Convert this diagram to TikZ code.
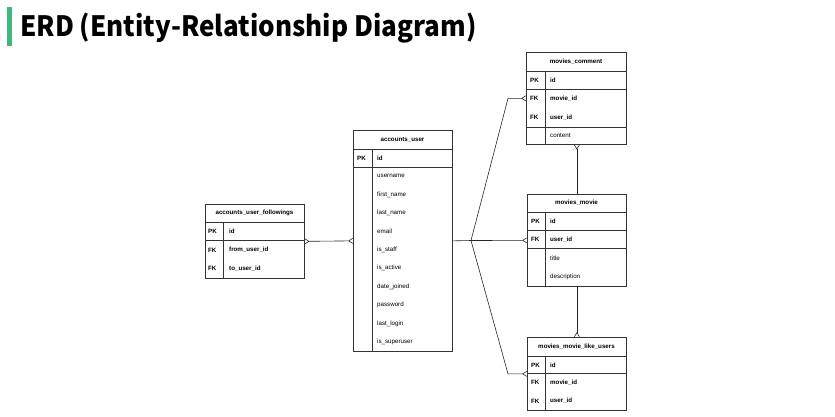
\documentclass[tikz,border=0pt]{standalone}
\usepackage{fontspec}
\setmainfont{Liberation Sans}
\newfontfamily\titlefont[FakeStretch=0.93]{Noto Sans CJK KR}
\usetikzlibrary{arrows.meta}
\definecolor{barGreen}{RGB}{62,184,124}
\tikzset{
  tbl/.style={draw=black!80, line width=0.7pt, anchor=north west, inner sep=0pt},
  tline/.style={draw=black!80, line width=0.6pt},
  hd/.style={font=\bfseries\fontsize{6.2}{7}\selectfont, inner sep=0pt},
  key/.style={font=\bfseries\fontsize{6.2}{7}\selectfont, anchor=west, inner sep=0pt},
  fld/.style={font=\fontsize{6.2}{7}\selectfont, anchor=west, inner sep=0pt},
  rel/.style={draw=black!85, line width=0.6pt},
  many/.style={-{Straight Barb[reversed,length=4pt,width=5pt]}},
  manymany/.style={{Straight Barb[reversed,length=4pt,width=5pt]}-{Straight Barb[reversed,length=4pt,width=5pt]}},
}
\begin{document}
\begin{tikzpicture}[x=1pt,y=-1pt]
    \useasboundingbox (0,0) rectangle (835,416);
    \fill[barGreen] (6.5,7) rectangle (11.5,46);
    \node[anchor=base west, inner sep=0pt, font=\titlefont\bfseries\fontsize{28}{34}\selectfont] (title) at (20,36) {ERD (Entity-Relationship Diagram)};
    %
    % accounts_user_followings
    \node[tbl, minimum width=99pt, minimum height=74pt] (follow) at (205,204) {};
    \draw[tline] (205,222) -- (304,222);
    \draw[tline] (205,240) -- (304,240);
    \draw[tline] (223,222) -- (223,278);
    \node[hd] (follow-h) at (254.5,213) {accounts\_user\_followings};
    \node[key] (follow-k1) at (208,231) {PK};
    \node[key] (follow-f1) at (229,231) {id};
    \node[key] (follow-k2) at (208,250) {FK};
    \node[key] (follow-f2) at (229,250) {from\_user\_id};
    \node[key] (follow-k3) at (208,268.5) {FK};
    \node[key] (follow-f3) at (229,268.5) {to\_user\_id};
    %
    % accounts_user
    \node[tbl, minimum width=99pt, minimum height=221pt] (user) at (353,130) {};
    \draw[tline] (353,149) -- (452,149);
    \draw[tline] (353,167) -- (452,167);
    \draw[tline] (372,149) -- (372,351);
    \node[hd] (user-h) at (402.5,139.5) {accounts\_user};
    \node[key] (user-k) at (357,158) {PK};
    \node[key] (user-id) at (377,158) {id};
    \foreach \f [count=\i] in {username,first\_name,last\_name,email,is\_staff,is\_active,date\_joined,password,last\_login,is\_superuser}
        \node[fld] (user-f\i) at (377,{167+18.4*\i-9.2}) {\f};
    %
    % movies_comment
    \node[tbl, minimum width=100pt, minimum height=92pt] (comment) at (526,52) {};
    \draw[tline] (526,71) -- (626,71);
    \draw[tline] (526,89) -- (626,89);
    \draw[tline] (526,127) -- (626,127);
    \draw[tline] (545,71) -- (545,144);
    \node[hd] (comment-h) at (576,61.5) {movies\_comment};
    \node[key] (comment-k1) at (530,80) {PK};
    \node[key] (comment-f1) at (550,80) {id};
    \node[key] (comment-k2) at (530,98.5) {FK};
    \node[key] (comment-f2) at (550,98.5) {movie\_id};
    \node[key] (comment-k3) at (530,117.5) {FK};
    \node[key] (comment-f3) at (550,117.5) {user\_id};
    \node[fld] (comment-f4) at (550,135.5) {content};
    %
    % movies_movie
    \node[tbl, minimum width=99pt, minimum height=92pt] (movie) at (527,194) {};
    \draw[tline] (527,212) -- (626,212);
    \draw[tline] (527,230) -- (626,230);
    \draw[tline] (527,248) -- (626,248);
    \draw[tline] (545,212) -- (545,286);
    \node[hd] (movie-h) at (576.5,203) {movies\_movie};
    \node[key] (movie-k1) at (531,221) {PK};
    \node[key] (movie-f1) at (550,221) {id};
    \node[key] (movie-k2) at (531,239.5) {FK};
    \node[key] (movie-f2) at (550,239.5) {user\_id};
    \node[fld] (movie-f3) at (550,258) {title};
    \node[fld] (movie-f4) at (550,277) {description};
    %
    % movies_movie_like_users
    \node[tbl, minimum width=99pt, minimum height=73pt] (like) at (527,337) {};
    \draw[tline] (527,356) -- (626,356);
    \draw[tline] (527,373) -- (626,373);
    \draw[tline] (545,356) -- (545,410);
    \node[hd] (like-h) at (576.5,346.5) {movies\_movie\_like\_users};
    \node[key] (like-k1) at (531,365) {PK};
    \node[key] (like-f1) at (550,365) {id};
    \node[key] (like-k2) at (531,382.5) {FK};
    \node[key] (like-f2) at (550,382.5) {movie\_id};
    \node[key] (like-k3) at (531,401) {FK};
    \node[key] (like-f3) at (550,401) {user\_id};
    %
    % relations
    \coordinate (fork) at (471,240.5);
    \draw[rel,manymany] (follow.east) -- (user.west);
    \draw[rel] (user.east) -- (fork);
    \draw[rel,many] (fork) -- ([xshift=-18pt]comment.west) -- (comment.west);
    \draw[rel,many] (fork) -- (movie.west);
    \draw[rel,many] (fork) -- ([xshift=-19pt]like.west) -- (like.west);
    \draw[rel,many] (movie.north) -- (movie.north |- comment.south);
    \draw[rel,many] (movie.south) -- (like.north);
\end{tikzpicture}
\end{document}
